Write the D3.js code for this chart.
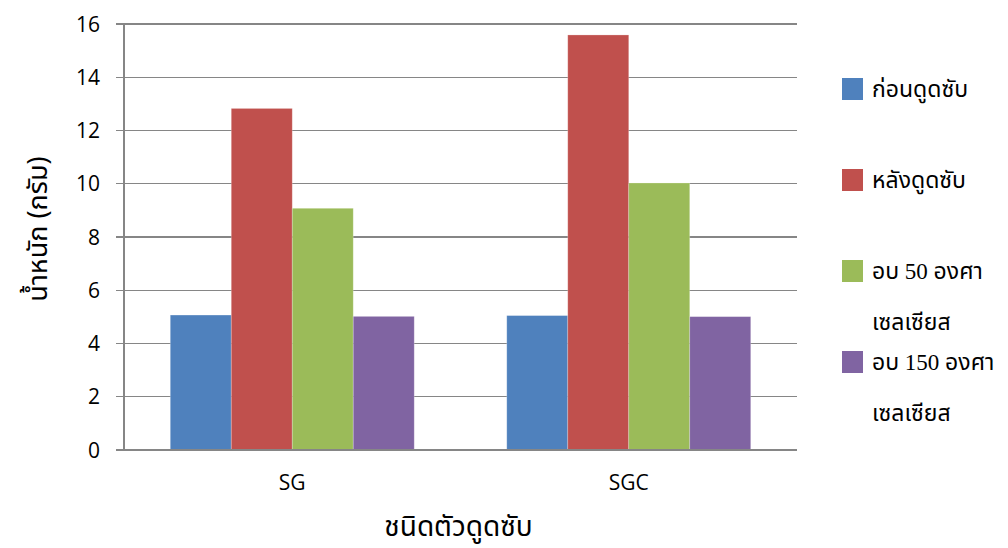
<!DOCTYPE html>
<html>
<head>
<meta charset="utf-8">
<script src="https://cdn.jsdelivr.net/npm/d3@7"></script>
<style>
  html, body { margin: 0; padding: 0; background: #ffffff; }
  svg { display: block; }
</style>
</head>
<body>
<svg id="chart" width="1008" height="548"></svg>
<script>
// Absorbent types on the x axis
const categories = ["SG", "SGC"];
// Weight series (grams)
const seriesNames = ["ก่อนดูดซับ", "หลังดูดซับ", "อบ 50 องศา เซลเซียส", "อบ 150 องศา เซลเซียส"];
const legendLines = [["ก่อนดูดซับ"], ["หลังดูดซับ"], ["อบ 50 องศา", "เซลเซียส"], ["อบ 150 องศา", "เซลเซียส"]];
const beforeAbsorb = [5.05, 5.03];
const afterAbsorb = [12.81, 15.57];
const baked50 = [9.06, 10.01];
const baked150 = [5.0, 4.99];
const yTicks = [0, 2, 4, 6, 8, 10, 12, 14, 16];
const colors = ["#4F81BD", "#C0504D", "#9BBB59", "#8064A2"];
const yTitle = "น้ำหนัก (กรัม)";
const xTitle = "ชนิดตัวดูดซับ";

const seriesValues = [beforeAbsorb, afterAbsorb, baked50, baked150];

const svg = d3.select("#chart");
const plotLeft = 124, plotRight = 797, plotTop = 23.5, plotBottom = 449.5;
const gridColor = "#868686";
const numFont = "'Open Sans', 'Liberation Sans', sans-serif";
const thaiSans = "'Noto Sans Thai', 'Noto Sans', 'DejaVu Sans', sans-serif";
const thaiSerif = "'Liberation Serif', 'Noto Sans Thai', serif";

const y = d3.scaleLinear().domain([0, 16]).range([plotBottom, plotTop]);
const x0 = d3.scaleBand().domain(categories).range([plotLeft, plotRight])
  .paddingInner(0.275).paddingOuter(0.1375);
const x1 = d3.scaleBand().domain(d3.range(seriesNames.length)).range([0, x0.bandwidth()]);

// Horizontal gridlines with short ticks left of the axis
const yAxis = d3.axisLeft(y).tickValues(yTicks).tickSize(0).tickPadding(24)
  .tickFormat(d3.format("d"));
const yg = svg.append("g").attr("transform", `translate(${plotLeft},0)`).call(yAxis);
yg.select(".domain").remove();
yg.selectAll(".tick").append("line")
  .attr("x1", -8).attr("x2", plotRight - plotLeft)
  .attr("stroke", gridColor).attr("stroke-width", 1.2).attr("shape-rendering", "crispEdges");
yg.selectAll(".tick text")
  .attr("font-family", numFont).attr("font-size", 21).attr("fill", "#000")
  .attr("dy", "0.36em");

// Bars
const groups = svg.append("g").selectAll("g").data(categories).join("g")
  .attr("transform", d => `translate(${x0(d)},0)`);
groups.selectAll("rect")
  .data((c, ci) => seriesValues.map((vals, si) => ({ si, v: vals[ci] })))
  .join("rect")
  .attr("x", d => x1(d.si))
  .attr("width", x1.bandwidth())
  .attr("y", d => y(d.v))
  .attr("height", d => y(0) - y(d.v))
  .attr("fill", d => colors[d.si])
  .attr("stroke", "#ffffff").attr("stroke-opacity", 0.3).attr("stroke-width", 0.8);

// Vertical axis line
svg.append("line")
  .attr("x1", plotLeft).attr("x2", plotLeft).attr("y1", plotTop).attr("y2", plotBottom)
  .attr("stroke", gridColor).attr("stroke-width", 1.2).attr("shape-rendering", "crispEdges");
// Baseline
svg.append("line")
  .attr("x1", plotLeft - 8).attr("x2", plotRight).attr("y1", plotBottom).attr("y2", plotBottom)
  .attr("stroke", gridColor).attr("stroke-width", 1.2).attr("shape-rendering", "crispEdges");

// Category labels
const xAxis = d3.axisBottom(x0).tickSize(0).tickPadding(26);
const xg = svg.append("g").attr("transform", `translate(0,${plotBottom})`).call(xAxis);
xg.select(".domain").remove();
xg.selectAll(".tick text")
  .attr("font-family", numFont).attr("font-size", 21).attr("fill", "#000");

// Axis titles
svg.append("text")
  .attr("x", (plotLeft + plotRight) / 2 - 2).attr("y", 536)
  .attr("text-anchor", "middle")
  .attr("font-family", thaiSans).attr("font-size", 28).attr("fill", "#000")
  .text(xTitle);
svg.append("text")
  .attr("transform", "translate(47,229) rotate(-90)")
  .attr("text-anchor", "middle")
  .attr("font-family", thaiSans).attr("font-size", 27).attr("fill", "#000")
  .text(yTitle);

// Legend
const legendTop = [78, 169, 260, 351];
const legend = svg.append("g").selectAll("g").data(seriesNames).join("g")
  .attr("transform", (d, i) => `translate(842,${legendTop[i]})`);
legend.append("rect").attr("width", 21).attr("height", 22)
  .attr("fill", (d, i) => colors[i]);
legend.each(function (d, i) {
  const g = d3.select(this);
  legendLines[i].forEach((line, li) => {
    g.append("text")
      .attr("x", 30).attr("y", 19 + li * 51)
      .attr("font-family", thaiSerif).attr("font-size", 23).attr("fill", "#000")
      .text(line);
  });
});
</script>
</body>
</html>
